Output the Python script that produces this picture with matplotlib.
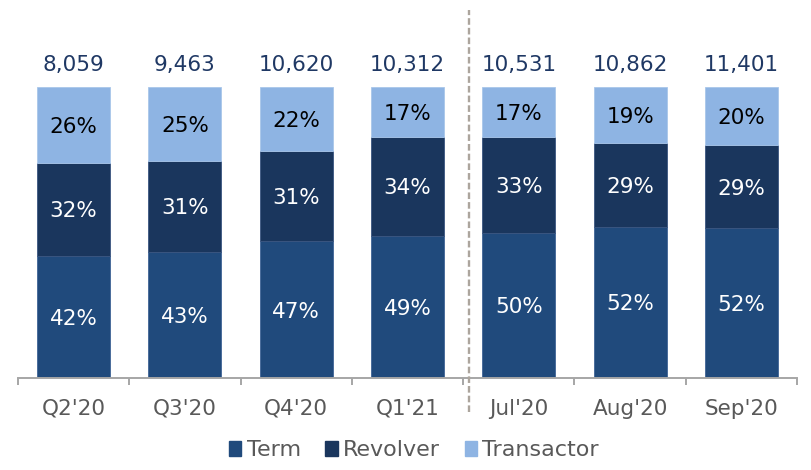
import numpy as np
import matplotlib
matplotlib.use("Agg")
import matplotlib.pyplot as plt
from matplotlib.patches import Patch

# data
categories = ["Q2'20", "Q3'20", "Q4'20", "Q1'21", "Jul'20", "Aug'20", "Sep'20"]
totals = [8059, 9463, 10620, 10312, 10531, 10862, 11401]
term = [42, 43, 47, 49, 50, 52, 52]
revolver = [32, 31, 31, 34, 33, 29, 29]
transactor = [26, 25, 22, 17, 17, 19, 20]

c_term = "#204a7c"
c_rev = "#1a365d"
c_trans = "#8eb4e3"
c_total = "#1f3864"
c_grey = "#595959"
c_axis = "#a6a6a6"
c_dash = "#aca59d"

plt.rcParams["font.family"] = ["DejaVu Sans"]

fig = plt.figure(figsize=(8.12, 4.70), dpi=100)
ax = fig.add_axes([18 / 812, 1 - 378 / 470, 779 / 812, 368 / 470])

x = np.arange(len(categories))
# bars are drawn as 100% stacks, so normalise the rounded shares
sums = np.array(term) + np.array(revolver) + np.array(transactor)
t = np.array(term) / sums * 100
r = np.array(revolver) / sums * 100
s = np.array(transactor) / sums * 100

w = 0.655
ax.bar(x, t, w, color=c_term, edgecolor="#3f6496", linewidth=0.6, label="Term")
ax.bar(x, r, w, bottom=t, color=c_rev, edgecolor="#3a5580", linewidth=0.6,
       label="Revolver")
ax.bar(x, s, w, bottom=t + r, color=c_trans, edgecolor="#a9c6ea", linewidth=0.6,
       label="Transactor")

fs = 15.5
for i in range(len(x)):
    ax.text(x[i], t[i] / 2, f"{term[i]}%", ha="center", va="center_baseline",
            color="white", fontsize=fs)
    ax.text(x[i], t[i] + r[i] / 2, f"{revolver[i]}%", ha="center",
            va="center_baseline", color="white", fontsize=fs)
    ax.text(x[i], t[i] + r[i] + s[i] / 2, f"{transactor[i]}%", ha="center",
            va="center_baseline", color="black", fontsize=fs)
    ax.text(x[i], 107.7, f"{totals[i]:,}", ha="center", va="center",
            color=c_total, fontsize=fs)

ax.set_xlim(-0.5, len(categories) - 0.5)
ax.set_ylim(0, 126.6)

# separator between quarterly and monthly bars
ax.plot([3.55, 3.55], [-11.7, 126.6], color=c_dash, lw=1.7,
        linestyle=(0, (2.8, 1.3)), clip_on=False, zorder=5)

for sp in ["top", "right", "left"]:
    ax.spines[sp].set_visible(False)
ax.spines["bottom"].set_color(c_axis)
ax.spines["bottom"].set_linewidth(1.4)
ax.set_yticks([])

ax.set_xticks(x)
ax.set_xticklabels(categories)
ax.tick_params(axis="x", which="major", length=0, pad=15, labelsize=fs,
               labelcolor=c_grey)
ax.set_xticks(np.arange(-0.5, len(categories)), minor=True)
ax.tick_params(axis="x", which="minor", length=5, width=1.4, color=c_axis,
               direction="out")

handles = [Patch(color=c_term), Patch(color=c_rev), Patch(color=c_trans)]
fig.legend(handles, ["Term", "Revolver", "Transactor"], loc="center",
           bbox_to_anchor=(0.51, 1 - 450 / 470), ncol=3, frameon=False,
           fontsize=fs + 0.5, labelcolor=c_grey, handlelength=0.55,
           handleheight=0.65, handletextpad=0.25, columnspacing=1.1,
           borderpad=0)

fig.savefig("out.png", dpi=100)
